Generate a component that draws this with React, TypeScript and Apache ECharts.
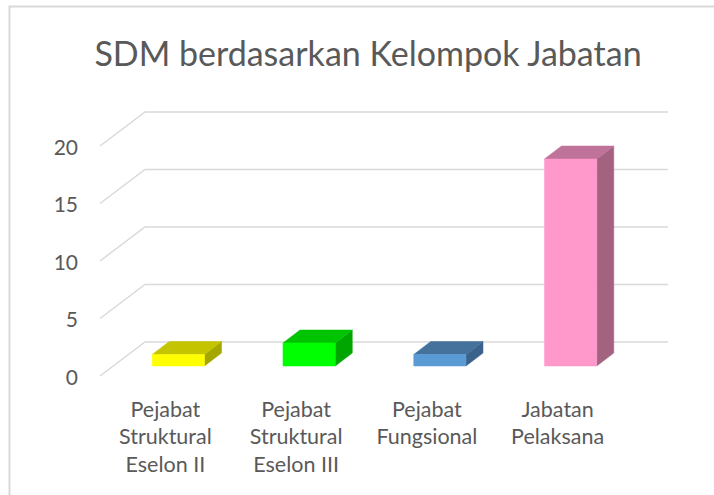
import React, { useEffect, useRef } from "react";
import * as echarts from "echarts";

const titleText = "SDM berdasarkan Kelompok Jabatan";
const categories = [
  "Pejabat\nStruktural\nEselon II",
  "Pejabat\nStruktural\nEselon III",
  "Pejabat\nFungsional",
  "Jabatan\nPelaksana",
];
const values = [1, 2, 1, 18];
const yTicks = [0, 5, 10, 15, 20];
const frontColors = ["#ffff00", "#00ff00", "#5b9bd5", "#ff99cc"];
const topColors = ["#c4c400", "#00c400", "#44729d", "#c0739a"];
const sideColors = ["#a6a600", "#00a600", "#3a628a", "#a3627f"];

const FONT = "Lato, 'Open Sans', sans-serif";
const TEXT = "#595959";
const GRID = "#d9d9d9";
// depth offsets (pixels) from the front plane
const BAR_FRONT = [13, -10];
const BAR_BACK = [30, -23];
const WALL = [45, -34];

export default function App() {
  const ref = useRef<HTMLDivElement>(null);
  useEffect(() => {
    if (!ref.current) return;
    const chart = echarts.init(ref.current, null, { renderer: "svg" });
    chart.setOption({
      animation: false,
      backgroundColor: "#ffffff",
      title: {
        text: titleText,
        left: 363,
        top: 30,
        textAlign: "center",
        textStyle: { color: TEXT, fontFamily: FONT, fontSize: 34, fontWeight: "normal" },
      },
      graphic: [
        {
          type: "rect",
          shape: { x: 9.5, y: 6.5, width: 900, height: 700 },
          style: { fill: "none", stroke: GRID, lineWidth: 2 },
          silent: true,
        },
      ],
      grid: { left: 100, right: 91, top: 146, bottom: 119 },
      xAxis: {
        type: "category",
        data: categories,
        axisLine: { show: false },
        axisTick: { show: false },
        splitLine: { show: false },
        axisLabel: {
          color: TEXT,
          fontFamily: FONT,
          fontSize: 21.5,
          lineHeight: 27.5,
          margin: 19,
          interval: 0,
        },
      },
      yAxis: {
        type: "value",
        min: 0,
        max: 20,
        interval: 5,
        axisLine: { show: false },
        axisTick: { show: false },
        splitLine: { show: false },
        axisLabel: { color: TEXT, fontFamily: FONT, fontSize: 21, margin: 22 },
      },
      series: [
        {
          type: "custom",
          clip: false,
          silent: true,
          z: 1,
          data: yTicks.map((v) => [0, v]),
          renderItem: (params: any, api: any) => {
            const cs = params.coordSys;
            const y = api.coord([0, api.value(1)])[1];
            const x0 = cs.x;
            const x1 = cs.x + cs.width;
            return {
              type: "polyline",
              shape: {
                points: [
                  [x0, y],
                  [x0 + WALL[0], y + WALL[1]],
                  [x1 + WALL[0], y + WALL[1]],
                ],
              },
              style: { stroke: GRID, lineWidth: 1.5, fill: "none" },
            };
          },
        },
        {
          type: "custom",
          clip: false,
          z: 2,
          data: values.map((v, i) => [i, v]),
          renderItem: (params: any, api: any) => {
            const i = api.value(0);
            const v = api.value(1);
            const top = api.coord([i, v]);
            const base = api.coord([i, 0]);
            const band = api.size([1, 0])[0];
            const w = band * 0.4;
            const fx0 = top[0] - w / 2 + BAR_FRONT[0];
            const fx1 = top[0] + w / 2 + BAR_FRONT[0];
            const fyT = top[1] + BAR_FRONT[1];
            const fyB = base[1] + BAR_FRONT[1];
            const dx = BAR_BACK[0] - BAR_FRONT[0];
            const dy = BAR_BACK[1] - BAR_FRONT[1];
            const idx = params.dataIndex;
            return {
              type: "group",
              children: [
                {
                  type: "polygon",
                  shape: { points: [[fx1, fyT], [fx1 + dx, fyT + dy], [fx1 + dx, fyB + dy], [fx1, fyB]] },
                  style: { fill: sideColors[idx], stroke: sideColors[idx], lineWidth: 0.5 },
                },
                {
                  type: "polygon",
                  shape: { points: [[fx0, fyT], [fx0 + dx, fyT + dy], [fx1 + dx, fyT + dy], [fx1, fyT]] },
                  style: { fill: topColors[idx], stroke: topColors[idx], lineWidth: 0.5 },
                },
                {
                  type: "rect",
                  shape: { x: fx0, y: fyT, width: fx1 - fx0, height: fyB - fyT },
                  style: { fill: frontColors[idx], stroke: frontColors[idx], lineWidth: 0.5 },
                },
              ],
            };
          },
        },
      ],
    });
    return () => chart.dispose();
  }, []);
  return (
    <div
      ref={ref}
      style={{ position: "fixed", left: 0, top: 0, width: 714, height: 495 }}
    />
  );
}
